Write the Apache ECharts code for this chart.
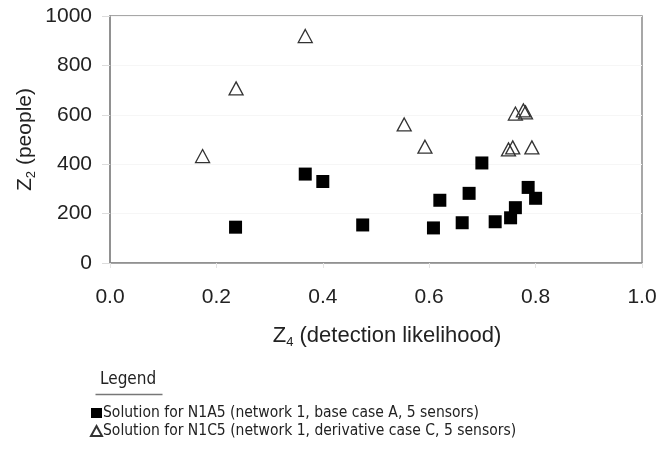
<!DOCTYPE html>
<html>
<head>
<meta charset="utf-8">
<script src="https://cdn.jsdelivr.net/npm/echarts@6/dist/echarts.min.js"></script>
<style>
  html, body { margin: 0; padding: 0; background: #fff; }
  #chart { width: 672px; height: 449px; }
</style>
</head>
<body>
<div id="chart"></div>
<script>
// Z4 (detection likelihood) and Z2 (people) for each solution
var n1a5X = [0.236, 0.367, 0.400, 0.475, 0.608, 0.620, 0.662, 0.675, 0.699, 0.724, 0.753, 0.762, 0.786, 0.800];
var n1a5Y = [145, 360, 330, 154, 142, 254, 163, 282, 405, 167, 183, 224, 306, 262];

var n1c5X = [0.174, 0.237, 0.367, 0.553, 0.592, 0.749, 0.757, 0.793, 0.762, 0.777, 0.781];
var n1c5Y = [433, 707, 919, 561, 471, 460, 468, 468, 605, 618, 610];

var xTicks = [0.0, 0.2, 0.4, 0.6, 0.8, 1.0];
var yTicks = [0, 200, 400, 600, 800, 1000];

var seriesNames = [
  'Solution for N1A5 (network 1, base case A, 5 sensors)',
  'Solution for N1C5 (network 1, derivative case C, 5 sensors)'
];

function pairs(xs, ys) {
  return xs.map(function (x, i) { return [x, ys[i]]; });
}

var font = 'Liberation Sans, Arial, sans-serif';
var legendFont = 'DejaVu Sans Condensed, sans-serif';
var chart = echarts.init(document.getElementById('chart'), null, { renderer: 'canvas' });

function nameRich(size) {
  return {
    a: { fontFamily: font, fontSize: size, color: '#222' },
    s: { fontFamily: font, fontSize: 13, color: '#222', verticalAlign: 'bottom', padding: [13, 0, 0, 0] }
  };
}

chart.setOption({
  animation: false,
  backgroundColor: '#fff',
  grid: {
    left: 110, right: 30, top: 16, bottom: 186,
    show: true, borderColor: '#8a8a8a', borderWidth: 1.5, backgroundColor: 'transparent'
  },
  xAxis: {
    type: 'value', min: xTicks[0], max: xTicks[xTicks.length - 1], interval: 0.2,
    axisLine: { show: true, lineStyle: { color: '#8a8a8a', width: 1.5 } },
    axisTick: { show: true, length: 5, lineStyle: { color: '#e4e4e4' } },
    splitLine: { show: false },
    axisLabel: {
      margin: 24, color: '#222', fontFamily: font, fontSize: 21,
      formatter: function (v) { return v.toFixed(1); }
    },
    name: '{a|Z}{s|4}{a| (detection likelihood)}',
    nameLocation: 'middle', nameGap: 60,
    nameTextStyle: { rich: nameRich(22), padding: [0, 0, 0, 22] }
  },
  yAxis: {
    type: 'value', min: yTicks[0], max: yTicks[yTicks.length - 1], interval: 200,
    axisLine: { show: true, lineStyle: { color: '#8a8a8a', width: 1.5 } },
    axisTick: { show: true, length: 8, lineStyle: { color: '#dcdcdc' } },
    splitLine: { show: true, lineStyle: { color: '#f6f6f6', width: 1 } },
    axisLabel: {
      margin: 18, color: '#222', fontFamily: font, fontSize: 21,
      formatter: function (v) { return String(v); }
    },
    name: '{a|Z}{s|2}{a| (people)}',
    nameLocation: 'middle', nameGap: 72, nameRotate: 90,
    nameMoveOverlap: false,
    nameTextStyle: { rich: nameRich(21) }
  },
  legend: {
    orient: 'vertical', left: 85, top: 400,
    itemWidth: 11, itemHeight: 10, itemGap: 2,
    textStyle: { fontFamily: legendFont, fontSize: 15.5, color: '#222', padding: [0, 0, 0, -4] },
    data: [
      { name: seriesNames[0], icon: 'rect' },
      { name: seriesNames[1], icon: 'triangle' }
    ]
  },
  graphic: [
    {
      type: 'text', left: 100, top: 371,
      style: { text: 'Legend', font: '17px DejaVu Sans Condensed, sans-serif', fill: '#222' }
    },
    {
      type: 'line', left: 93, top: 392,
      shape: { x1: 0, y1: 0, x2: 67, y2: 0 },
      style: { stroke: '#777', lineWidth: 1.5 }
    }
  ],
  series: [
    {
      name: seriesNames[0], type: 'scatter', symbol: 'rect', symbolSize: 13,
      itemStyle: { color: '#000', borderColor: '#000', borderWidth: 0, opacity: 1 },
      data: pairs(n1a5X, n1a5Y)
    },
    {
      name: seriesNames[1], type: 'scatter', symbol: 'triangle', symbolSize: [14, 13],
      itemStyle: { color: 'rgba(255,255,255,0)', borderColor: '#333', borderWidth: 1.3, opacity: 1 },
      data: pairs(n1c5X, n1c5Y)
    }
  ]
});
</script>
</body>
</html>
